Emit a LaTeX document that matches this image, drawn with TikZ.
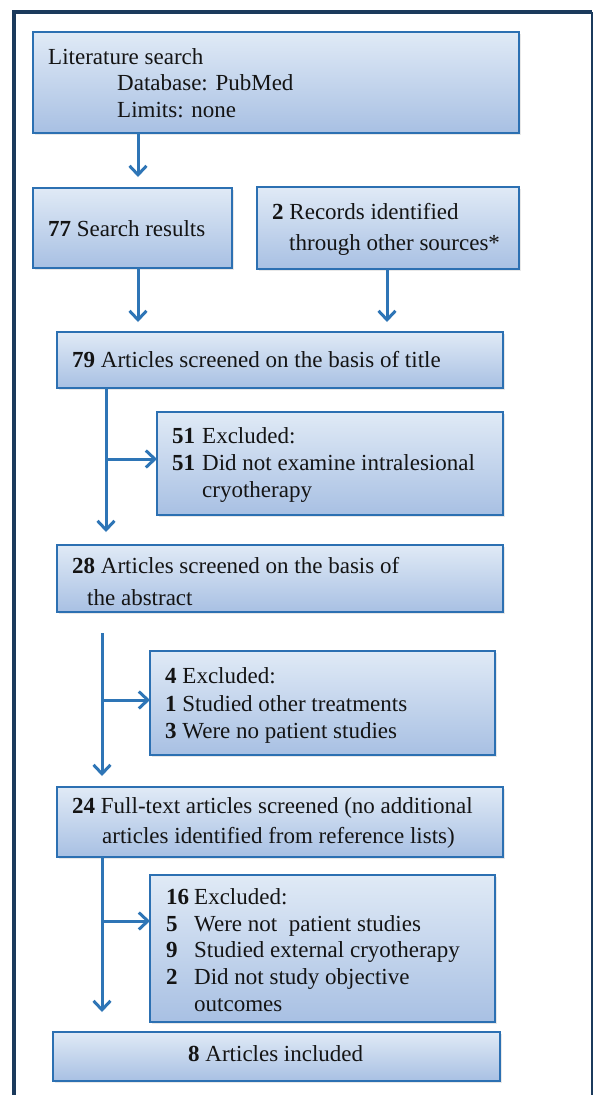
\documentclass[tikz,border=0pt]{standalone}
\usepackage{fontspec}
\setmainfont{Liberation Serif}
\usetikzlibrary{arrows.meta,shadows}
\definecolor{boxline}{RGB}{44,112,178}
\definecolor{arrcol}{RGB}{46,117,182}
\definecolor{topfill}{RGB}{224,234,246}
\definecolor{botfill}{RGB}{168,192,227}
\definecolor{framecol}{RGB}{27,58,92}
\definecolor{txtcol}{RGB}{20,20,20}
\tikzset{
  box/.style={draw=boxline, line width=2.4pt, top color=topfill, bottom color=botfill,
    inner sep=0pt, outer sep=0pt, anchor=north west,
    drop shadow={shadow xshift=2pt, shadow yshift=-2pt, opacity=0.18, fill=gray}},
  txt/.style={anchor=base west, inner sep=0pt, text=txtcol, font=\fontsize{23}{27}\selectfont},
  arr/.style={draw=arrcol, line width=3pt, -{Straight Barb[length=9pt,width=17pt,line width=3pt]}},
  lin/.style={draw=arrcol, line width=3pt},
  frame/.style={draw=framecol}
}
\newcommand{\nb}[2]{\makebox[#1][l]{\textbf{#2}}}
\begin{document}
\begin{tikzpicture}[x=1pt,y=-1pt]
\useasboundingbox[fill=white] (0,0) rectangle (595,1095);
% outer frame
\draw[frame, line width=4pt] (14,1100) -- (14,12) -- (592,12);
\draw[frame, line width=2.5pt] (592,12) -- (592,1100);

% boxes
\node[box, minimum width=486pt, minimum height=101pt] (b1) at (33,32) {};
\node[box, minimum width=199pt, minimum height=80pt] (b2) at (33,188) {};
\node[box, minimum width=262pt, minimum height=82pt] (b3) at (257,187) {};
\node[box, minimum width=446pt, minimum height=56pt] (b4) at (57,332) {};
\node[box, minimum width=346pt, minimum height=103pt] (b5) at (157,412) {};
\node[box, minimum width=446pt, minimum height=67pt] (b6) at (57,545) {};
\node[box, minimum width=345pt, minimum height=104pt] (b7) at (150,651) {};
\node[box, minimum width=446pt, minimum height=70pt] (b8) at (57,787) {};
\node[box, minimum width=345pt, minimum height=147pt] (b9) at (150,875) {};
\node[box, minimum width=447pt, minimum height=49pt] (b10) at (53,1032) {};

% texts
\node[txt] (t1a) at (48,64) {Literature search};
\node[txt] (t1b) at (117,90) {Database: PubMed};
\node[txt] (t1c) at (117,117) {Limits: none};

\node[txt] (t2) at (48,236) {\textbf{77} Search results};

\node[txt] (t3a) at (272,219) {\textbf{2} Records identified};
\node[txt] (t3b) at (289,250) {through other sources*};

\node[txt] (t4) at (72,367) {\textbf{79} Articles screened on the basis of title};

\node[txt] (t5a) at (172,443) {\nb{30pt}{51}Excluded:};
\node[txt] (t5b) at (172,470) {\nb{30pt}{51}Did not examine intralesional};
\node[txt] (t5c) at (202,497) {cryotherapy};

\node[txt] (t6a) at (72,573) {\textbf{28} Articles screened on the basis of};
\node[txt] (t6b) at (87,605) {the abstract};

\node[txt] (t7a) at (165,683) {\textbf{4} Excluded:};
\node[txt] (t7b) at (165,711) {\textbf{1} Studied other treatments};
\node[txt] (t7c) at (165,738) {\textbf{3} Were no patient studies};

\node[txt] (t8a) at (72,813) {\textbf{24} Full-text articles screened (no additional};
\node[txt] (t8b) at (102,843) {articles identified from reference lists)};

\node[txt] (t9a) at (166,904) {\nb{28pt}{16}Excluded:};
\node[txt] (t9b) at (166,931) {\nb{28pt}{5}Were not\ \ patient studies};
\node[txt] (t9c) at (166,957) {\nb{28pt}{9}Studied external cryotherapy};
\node[txt] (t9d) at (166,984) {\nb{28pt}{2}Did not study objective};
\node[txt] (t9e) at (194,1011) {outcomes};

\node[txt] (t10) at (188,1061) {\textbf{8} Articles included};

% column coordinates
\coordinate (xa) at (138,0);
\coordinate (xb) at (387,0);
\coordinate (xc) at (106,0);
\coordinate (xd) at (102,0);
\coordinate (j1) at (106,459);
\coordinate (j2) at (102,700);
\coordinate (j3) at (102,921);
\coordinate (s2) at (102,633);

% connectors
\draw[arr, shorten >=11pt] (b1.south -| xa) -- (b2.north -| xa);
\draw[arr, shorten >=10pt] (b2.south -| xa) -- (b4.north -| xa);
\draw[arr, shorten >=10pt] (b3.south -| xb) -- (b4.north -| xb);

\draw[arr, shorten >=13pt] (b4.south -| xc) -- (b6.north -| xc);
\draw[arr] (j1) -- (j1 -| b5.west);

\draw[arr, shorten >=11pt] (s2) -- (b8.north -| s2);
\draw[arr] (j2) -- (j2 -| b7.west);

\draw[arr, shorten >=20pt] (b8.south -| xd) -- (b10.north -| xd);
\draw[arr] (j3) -- (j3 -| b9.west);
\end{tikzpicture}
\end{document}
